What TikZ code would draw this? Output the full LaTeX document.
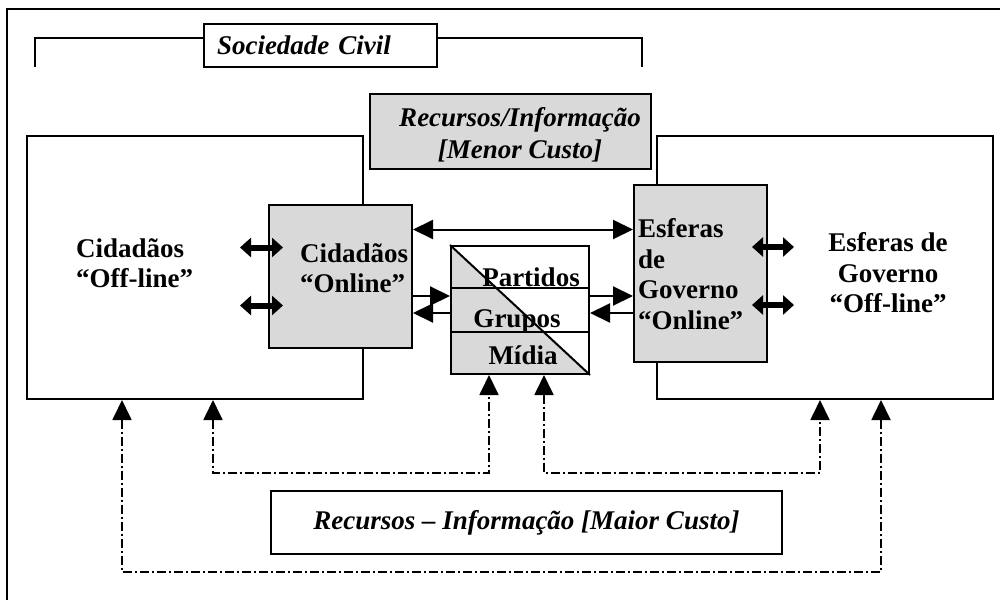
\documentclass[tikz,border=0pt]{standalone}
\usepackage{fontspec}
\setmainfont{Liberation Serif}
\usetikzlibrary{arrows.meta, positioning, calc}

\begin{document}
\begin{tikzpicture}[
    x=1pt, y=-1pt,
    txt/.style={font=\fontsize{27}{30.5}\selectfont\bfseries, inner sep=0pt, align=left},
    itx/.style={txt, font=\fontsize{27}{32}\selectfont\bfseries\itshape},
    box/.style={draw, line width=2pt, inner sep=0pt},
    grey/.style={box, fill=gray!30},
    bigtri/.tip={Triangle[length=20pt, width=19pt]},
    arrow/.style={line width=2pt, -bigtri},
    twoway/.style={line width=2pt, bigtri-bigtri},
    fat/.style={line width=6pt, {Triangle[length=11pt, width=19pt]}-{Triangle[length=11pt, width=19pt]}},
    dashdot/.style={line width=1.8pt, dash pattern=on 9pt off 3pt on 2pt off 3pt, bigtri-bigtri}
]
\useasboundingbox (0,0) rectangle (1000,599);

% --- Frame and bracket ---
\draw[line width=2.8pt] (7,601) |- (1002,9);
\coordinate (bl) at (35,67);
\coordinate (br) at (642,67);
\draw[line width=2pt] (bl) -- ++(0,-29) -| (br);

% --- Blocks ---
\node[box, fill=white, minimum width=233pt, minimum height=43pt, itx, text width=207pt, inner xsep=13pt] (soc) at (320.5,45.5) {Sociedade Civil};

\node[grey, minimum width=281pt, minimum height=75pt] (menor) at (510.5,131.5) {};
\node[itx, align=center] (menortxt) at ([shift={(9.5,3)}]menor.center) {Recursos/Informação\\{[Menor Custo]}};

\node[box, minimum width=336pt, minimum height=263pt] (cidoff) at (195,267.5) {};
\node[box, minimum width=336pt, minimum height=263pt] (govoff) at (825,267.5) {};
\node[grey, minimum width=143pt, minimum height=143pt] (cidon) at (340.5,276) {};
\node[grey, minimum width=133pt, minimum height=177pt] (esfon) at (700.5,273.5) {};

\node[box, minimum width=138pt, minimum height=128pt,
    path picture={\fill[gray!30] (path picture bounding box.north west) -- (path picture bounding box.south east) -- (path picture bounding box.south west) -- cycle;}] (mid) at (520,310) {};
\draw[line width=2pt] ($(mid.north west)!1/3!(mid.south west)$) -- ($(mid.north east)!1/3!(mid.south east)$);
\draw[line width=2pt] ($(mid.north west)!2/3!(mid.south west)$) -- ($(mid.north east)!2/3!(mid.south east)$);
\draw[line width=2pt] (mid.north west) -- (mid.south east);

\node[box, itx, align=center, minimum width=511pt, minimum height=63pt] (maior) at (526.5,522.5) {Recursos – Informação [Maior Custo]};

% --- Labels ---
\node[txt, anchor=west] (cidofftxt) at ([shift={(50,-4.5)}]cidoff.west) {Cidadãos\\“Off-line”};
\node[txt, anchor=west] (cidontxt) at ([shift={(32,-8)}]cidon.west) {Cidadãos\\“Online”};
\node[txt, anchor=west] (esfontxt) at ([shift={(5,0.5)}]esfon.west) {Esferas\\de\\Governo\\“Online”};
\node[txt, align=center] (govofftxt) at ([shift={(63,5.5)}]govoff.center) {Esferas de\\Governo\\“Off-line”};
\node[txt, anchor=base] (partidos) at ([shift={(11,41)}]mid.north) {Partidos};
\node[txt, anchor=base] (grupos) at ([shift={(-3,82)}]mid.north) {Grupos};
\node[txt, anchor=base] (midia) at ([shift={(3,119)}]mid.north) {Mídia};

% --- Arrows ---
\draw[twoway] ([shift={(0,26)}]cidon.north east) -- ([shift={(0,26)}]cidon.north east -| esfon.west);
\draw[arrow] ([shift={(0,51)}]mid.north west -| cidon.east) -- ([shift={(0,51)}]mid.north west);
\draw[arrow] ([shift={(0,68)}]mid.north west) -- ([shift={(0,68)}]mid.north west -| cidon.east);
\draw[arrow] ([shift={(0,51)}]mid.north east) -- ([shift={(0,51)}]mid.north east -| esfon.west);
\draw[arrow] ([shift={(0,68)}]mid.north east -| esfon.west) -- ([shift={(0,68)}]mid.north east);

\draw[fat] ([shift={(-28,44)}]cidon.north west) -- ++(43,0);
\draw[fat] ([shift={(-28,102)}]cidon.north west) -- ++(43,0);
\draw[fat] ([shift={(-16,63)}]esfon.north east) -- ++(42,0);
\draw[fat] ([shift={(-16,121)}]esfon.north east) -- ++(42,0);

\draw[dashdot] ([shift={(96,0)}]cidoff.south west) -- ++(0,172) -| ([shift={(225,0)}]govoff.south west);
\draw[dashdot] ([shift={(187,0)}]cidoff.south west) -- ++(0,73) -| ([shift={(39,0)}]mid.south west);
\draw[dashdot] ([shift={(94,0)}]mid.south west) -- ++(0,98) -| ([shift={(164,0)}]govoff.south west);

\end{tikzpicture}
\end{document}
